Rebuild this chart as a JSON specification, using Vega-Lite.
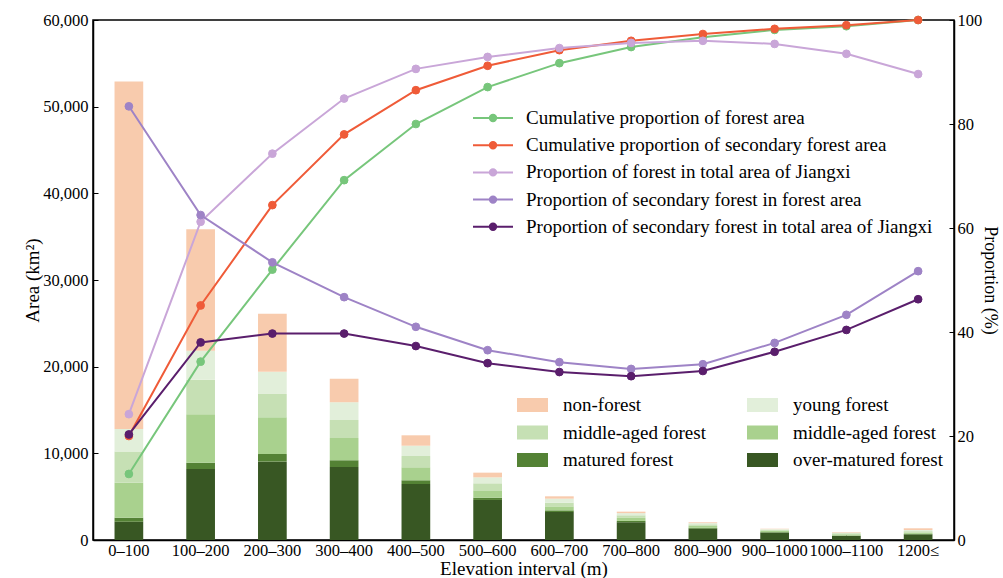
{
  "$schema": "https://vega.github.io/schema/vega-lite/v6.json",
  "width": 861,
  "height": 520,
  "autosize": {"type": "none"},
  "padding": {"left": 93, "top": 20, "right": 49, "bottom": 38},
  "background": "white",
  "config": {
    "font": "Liberation Serif",
    "view": {"stroke": "black", "strokeWidth": 1.5},
    "axis": {
      "labelFont": "Liberation Serif",
      "titleFont": "Liberation Serif",
      "labelFontSize": 16.5,
      "titleFontSize": 19,
      "titleFontWeight": "normal",
      "labelColor": "black",
      "titleColor": "black",
      "domainColor": "black",
      "domainWidth": 1.5,
      "tickColor": "black",
      "tickWidth": 1,
      "tickSize": -5,
      "labelPadding": 10,
      "grid": false
    },
    "legend": {
      "labelFont": "Liberation Serif",
      "labelFontSize": 19,
      "labelColor": "black",
      "labelLimit": 600,
      "padding": 0
    }
  },
  "datasets": {
    "bars": [
      {"elev": "0–100", "type": "over-matured forest", "stack": 1, "area": 2100},
      {"elev": "0–100", "type": "matured forest", "stack": 2, "area": 470},
      {"elev": "0–100", "type": "near-mature forest", "stack": 3, "area": 4030},
      {"elev": "0–100", "type": "middle-aged forest", "stack": 4, "area": 3600},
      {"elev": "0–100", "type": "young forest", "stack": 5, "area": 2600},
      {"elev": "0–100", "type": "non-forest", "stack": 6, "area": 40100},
      {"elev": "100–200", "type": "over-matured forest", "stack": 1, "area": 8200},
      {"elev": "100–200", "type": "matured forest", "stack": 2, "area": 700},
      {"elev": "100–200", "type": "near-mature forest", "stack": 3, "area": 5600},
      {"elev": "100–200", "type": "middle-aged forest", "stack": 4, "area": 4000},
      {"elev": "100–200", "type": "young forest", "stack": 5, "area": 3350},
      {"elev": "100–200", "type": "non-forest", "stack": 6, "area": 14000},
      {"elev": "200–300", "type": "over-matured forest", "stack": 1, "area": 9040},
      {"elev": "200–300", "type": "matured forest", "stack": 2, "area": 880},
      {"elev": "200–300", "type": "near-mature forest", "stack": 3, "area": 4230},
      {"elev": "200–300", "type": "middle-aged forest", "stack": 4, "area": 2700},
      {"elev": "200–300", "type": "young forest", "stack": 5, "area": 2550},
      {"elev": "200–300", "type": "non-forest", "stack": 6, "area": 6700},
      {"elev": "300–400", "type": "over-matured forest", "stack": 1, "area": 8420},
      {"elev": "300–400", "type": "matured forest", "stack": 2, "area": 780},
      {"elev": "300–400", "type": "near-mature forest", "stack": 3, "area": 2570},
      {"elev": "300–400", "type": "middle-aged forest", "stack": 4, "area": 2080},
      {"elev": "300–400", "type": "young forest", "stack": 5, "area": 2050},
      {"elev": "300–400", "type": "non-forest", "stack": 6, "area": 2700},
      {"elev": "400–500", "type": "over-matured forest", "stack": 1, "area": 6460},
      {"elev": "400–500", "type": "matured forest", "stack": 2, "area": 430},
      {"elev": "400–500", "type": "near-mature forest", "stack": 3, "area": 1500},
      {"elev": "400–500", "type": "middle-aged forest", "stack": 4, "area": 1300},
      {"elev": "400–500", "type": "young forest", "stack": 5, "area": 1190},
      {"elev": "400–500", "type": "non-forest", "stack": 6, "area": 1200},
      {"elev": "500–600", "type": "over-matured forest", "stack": 1, "area": 4620},
      {"elev": "500–600", "type": "matured forest", "stack": 2, "area": 260},
      {"elev": "500–600", "type": "near-mature forest", "stack": 3, "area": 850},
      {"elev": "500–600", "type": "middle-aged forest", "stack": 4, "area": 810},
      {"elev": "500–600", "type": "young forest", "stack": 5, "area": 690},
      {"elev": "500–600", "type": "non-forest", "stack": 6, "area": 540},
      {"elev": "600–700", "type": "over-matured forest", "stack": 1, "area": 3230},
      {"elev": "600–700", "type": "matured forest", "stack": 2, "area": 190},
      {"elev": "600–700", "type": "near-mature forest", "stack": 3, "area": 460},
      {"elev": "600–700", "type": "middle-aged forest", "stack": 4, "area": 420},
      {"elev": "600–700", "type": "young forest", "stack": 5, "area": 470},
      {"elev": "600–700", "type": "non-forest", "stack": 6, "area": 270},
      {"elev": "700–800", "type": "over-matured forest", "stack": 1, "area": 2050},
      {"elev": "700–800", "type": "matured forest", "stack": 2, "area": 150},
      {"elev": "700–800", "type": "near-mature forest", "stack": 3, "area": 350},
      {"elev": "700–800", "type": "middle-aged forest", "stack": 4, "area": 300},
      {"elev": "700–800", "type": "young forest", "stack": 5, "area": 250},
      {"elev": "700–800", "type": "non-forest", "stack": 6, "area": 170},
      {"elev": "800–900", "type": "over-matured forest", "stack": 1, "area": 1300},
      {"elev": "800–900", "type": "matured forest", "stack": 2, "area": 100},
      {"elev": "800–900", "type": "near-mature forest", "stack": 3, "area": 230},
      {"elev": "800–900", "type": "middle-aged forest", "stack": 4, "area": 180},
      {"elev": "800–900", "type": "young forest", "stack": 5, "area": 140},
      {"elev": "800–900", "type": "non-forest", "stack": 6, "area": 90},
      {"elev": "900–1000", "type": "over-matured forest", "stack": 1, "area": 850},
      {"elev": "900–1000", "type": "matured forest", "stack": 2, "area": 60},
      {"elev": "900–1000", "type": "near-mature forest", "stack": 3, "area": 150},
      {"elev": "900–1000", "type": "middle-aged forest", "stack": 4, "area": 110},
      {"elev": "900–1000", "type": "young forest", "stack": 5, "area": 80},
      {"elev": "900–1000", "type": "non-forest", "stack": 6, "area": 50},
      {"elev": "1000–1100", "type": "over-matured forest", "stack": 1, "area": 470},
      {"elev": "1000–1100", "type": "matured forest", "stack": 2, "area": 40},
      {"elev": "1000–1100", "type": "near-mature forest", "stack": 3, "area": 150},
      {"elev": "1000–1100", "type": "middle-aged forest", "stack": 4, "area": 120},
      {"elev": "1000–1100", "type": "young forest", "stack": 5, "area": 80},
      {"elev": "1000–1100", "type": "non-forest", "stack": 6, "area": 60},
      {"elev": "1200≤", "type": "over-matured forest", "stack": 1, "area": 650},
      {"elev": "1200≤", "type": "matured forest", "stack": 2, "area": 50},
      {"elev": "1200≤", "type": "near-mature forest", "stack": 3, "area": 170},
      {"elev": "1200≤", "type": "middle-aged forest", "stack": 4, "area": 150},
      {"elev": "1200≤", "type": "young forest", "stack": 5, "area": 130},
      {"elev": "1200≤", "type": "non-forest", "stack": 6, "area": 200}
    ],
    "lines": [
      {"elev": "0–100", "series": "Cumulative proportion of forest area", "pct": 12.7},
      {"elev": "100–200", "series": "Cumulative proportion of forest area", "pct": 34.3},
      {"elev": "200–300", "series": "Cumulative proportion of forest area", "pct": 52.0},
      {"elev": "300–400", "series": "Cumulative proportion of forest area", "pct": 69.2},
      {"elev": "400–500", "series": "Cumulative proportion of forest area", "pct": 80.0},
      {"elev": "500–600", "series": "Cumulative proportion of forest area", "pct": 87.1},
      {"elev": "600–700", "series": "Cumulative proportion of forest area", "pct": 91.7},
      {"elev": "700–800", "series": "Cumulative proportion of forest area", "pct": 94.8},
      {"elev": "800–900", "series": "Cumulative proportion of forest area", "pct": 96.7},
      {"elev": "900–1000", "series": "Cumulative proportion of forest area", "pct": 98.1},
      {"elev": "1000–1100", "series": "Cumulative proportion of forest area", "pct": 98.8},
      {"elev": "1200≤", "series": "Cumulative proportion of forest area", "pct": 100},
      {"elev": "0–100", "series": "Cumulative proportion of secondary forest area", "pct": 20.0},
      {"elev": "100–200", "series": "Cumulative proportion of secondary forest area", "pct": 45.1},
      {"elev": "200–300", "series": "Cumulative proportion of secondary forest area", "pct": 64.4},
      {"elev": "300–400", "series": "Cumulative proportion of secondary forest area", "pct": 78.0},
      {"elev": "400–500", "series": "Cumulative proportion of secondary forest area", "pct": 86.5},
      {"elev": "500–600", "series": "Cumulative proportion of secondary forest area", "pct": 91.2},
      {"elev": "600–700", "series": "Cumulative proportion of secondary forest area", "pct": 94.2},
      {"elev": "700–800", "series": "Cumulative proportion of secondary forest area", "pct": 96.0},
      {"elev": "800–900", "series": "Cumulative proportion of secondary forest area", "pct": 97.3},
      {"elev": "900–1000", "series": "Cumulative proportion of secondary forest area", "pct": 98.3},
      {"elev": "1000–1100", "series": "Cumulative proportion of secondary forest area", "pct": 99.0},
      {"elev": "1200≤", "series": "Cumulative proportion of secondary forest area", "pct": 100},
      {"elev": "0–100", "series": "Proportion of forest in total area of Jiangxi", "pct": 24.2},
      {"elev": "100–200", "series": "Proportion of forest in total area of Jiangxi", "pct": 61.2},
      {"elev": "200–300", "series": "Proportion of forest in total area of Jiangxi", "pct": 74.3},
      {"elev": "300–400", "series": "Proportion of forest in total area of Jiangxi", "pct": 84.9},
      {"elev": "400–500", "series": "Proportion of forest in total area of Jiangxi", "pct": 90.6},
      {"elev": "500–600", "series": "Proportion of forest in total area of Jiangxi", "pct": 92.9},
      {"elev": "600–700", "series": "Proportion of forest in total area of Jiangxi", "pct": 94.6},
      {"elev": "700–800", "series": "Proportion of forest in total area of Jiangxi", "pct": 95.6},
      {"elev": "800–900", "series": "Proportion of forest in total area of Jiangxi", "pct": 96.0},
      {"elev": "900–1000", "series": "Proportion of forest in total area of Jiangxi", "pct": 95.4},
      {"elev": "1000–1100", "series": "Proportion of forest in total area of Jiangxi", "pct": 93.5},
      {"elev": "1200≤", "series": "Proportion of forest in total area of Jiangxi", "pct": 89.6},
      {"elev": "0–100", "series": "Proportion of secondary forest in forest area", "pct": 83.4},
      {"elev": "100–200", "series": "Proportion of secondary forest in forest area", "pct": 62.5},
      {"elev": "200–300", "series": "Proportion of secondary forest in forest area", "pct": 53.4},
      {"elev": "300–400", "series": "Proportion of secondary forest in forest area", "pct": 46.7},
      {"elev": "400–500", "series": "Proportion of secondary forest in forest area", "pct": 41.0},
      {"elev": "500–600", "series": "Proportion of secondary forest in forest area", "pct": 36.5},
      {"elev": "600–700", "series": "Proportion of secondary forest in forest area", "pct": 34.2},
      {"elev": "700–800", "series": "Proportion of secondary forest in forest area", "pct": 32.9},
      {"elev": "800–900", "series": "Proportion of secondary forest in forest area", "pct": 33.8},
      {"elev": "900–1000", "series": "Proportion of secondary forest in forest area", "pct": 37.9},
      {"elev": "1000–1100", "series": "Proportion of secondary forest in forest area", "pct": 43.3},
      {"elev": "1200≤", "series": "Proportion of secondary forest in forest area", "pct": 51.7},
      {"elev": "0–100", "series": "Proportion of secondary forest in total area of Jiangxi", "pct": 20.3},
      {"elev": "100–200", "series": "Proportion of secondary forest in total area of Jiangxi", "pct": 38.0},
      {"elev": "200–300", "series": "Proportion of secondary forest in total area of Jiangxi", "pct": 39.7},
      {"elev": "300–400", "series": "Proportion of secondary forest in total area of Jiangxi", "pct": 39.7},
      {"elev": "400–500", "series": "Proportion of secondary forest in total area of Jiangxi", "pct": 37.3},
      {"elev": "500–600", "series": "Proportion of secondary forest in total area of Jiangxi", "pct": 34.0},
      {"elev": "600–700", "series": "Proportion of secondary forest in total area of Jiangxi", "pct": 32.3},
      {"elev": "700–800", "series": "Proportion of secondary forest in total area of Jiangxi", "pct": 31.5},
      {"elev": "800–900", "series": "Proportion of secondary forest in total area of Jiangxi", "pct": 32.5},
      {"elev": "900–1000", "series": "Proportion of secondary forest in total area of Jiangxi", "pct": 36.2},
      {"elev": "1000–1100", "series": "Proportion of secondary forest in total area of Jiangxi", "pct": 40.4},
      {"elev": "1200≤", "series": "Proportion of secondary forest in total area of Jiangxi", "pct": 46.3}
    ]
  },
  "encoding": {
    "x": {
      "field": "elev",
      "type": "nominal",
      "sort": ["0–100", "100–200", "200–300", "300–400", "400–500", "500–600", "600–700", "700–800", "800–900", "900–1000", "1000–1100", "1200≤"],
      "scale": {"paddingInner": 0.6, "paddingOuter": 0.3},
      "axis": {"title": "Elevation interval (m)", "labelAngle": 0, "titlePadding": 1, "labelPadding": 7}
    }
  },
  "layer": [
    {
      "data": {"name": "bars"},
      "mark": {"type": "bar"},
      "encoding": {
        "y": {
          "field": "area",
          "type": "quantitative",
          "stack": "zero",
          "scale": {"domain": [0, 60000]},
          "axis": {"title": "Area (km²)", "values": [0, 10000, 20000, 30000, 40000, 50000, 60000], "format": ",d", "titlePadding": 0}
        },
        "color": {
          "field": "type",
          "type": "nominal",
          "scale": {
            "domain": ["non-forest", "middle-aged forest", "matured forest", "young forest", "near-mature forest", "over-matured forest"],
            "range": ["#f8cbad", "#c6e0b4", "#548235", "#e2efda", "#a9d18e", "#385723"]
          },
          "legend": {
            "title": null,
            "orient": "none",
            "legendX": 424,
            "legendY": 375,
            "columns": 2,
            "columnPadding": 41,
            "rowPadding": 7.5,
            "symbolType": "M-1,-0.45H1V0.45H-1Z",
            "symbolSize": 961,
            "symbolStrokeWidth": 0,
            "clipHeight": 20,
            "labelOffset": 15,
            "labelExpr": "datum.label == 'near-mature forest' ? 'middle-aged forest' : datum.label"
          }
        },
        "order": {"field": "stack", "type": "quantitative"}
      }
    },
    {
      "data": {"name": "lines"},
      "encoding": {
        "y": {
          "field": "pct",
          "type": "quantitative",
          "scale": {"domain": [0, 100]},
          "axis": {"orient": "right", "title": "Proportion (%)", "titleFontSize": 18, "values": [0, 20, 40, 60, 80, 100], "titlePadding": -1, "labelPadding": 8}
        },
        "stroke": {
          "field": "series",
          "type": "nominal",
          "scale": {
            "domain": ["Cumulative proportion of forest area", "Cumulative proportion of secondary forest area", "Proportion of forest in total area of Jiangxi", "Proportion of secondary forest in forest area", "Proportion of secondary forest in total area of Jiangxi"],
            "range": ["#77c67b", "#ef5b38", "#c9a6d8", "#9e83c6", "#5a1e6c"]
          },
          "legend": {
            "title": null,
            "orient": "none",
            "legendX": 379,
            "legendY": 88,
            "symbolType": "M-1,0H1M-0.16,0A0.16,0.16 0 1,0 0.16,0A0.16,0.16 0 1,0 -0.16,0",
            "symbolSize": 1600,
            "symbolStrokeWidth": 2,
            "clipHeight": 20,
            "rowPadding": 7.2,
            "labelOffset": 12
          }
        }
      },
      "layer": [
        {"mark": {"type": "line", "strokeWidth": 2}},
        {
          "mark": {"type": "point", "filled": true, "opacity": 1, "size": 60, "strokeWidth": 1},
          "encoding": {
            "fill": {
              "field": "series",
              "type": "nominal",
              "scale": {
                "domain": ["Cumulative proportion of forest area", "Cumulative proportion of secondary forest area", "Proportion of forest in total area of Jiangxi", "Proportion of secondary forest in forest area", "Proportion of secondary forest in total area of Jiangxi"],
                "range": ["#77c67b", "#ef5b38", "#c9a6d8", "#9e83c6", "#5a1e6c"]
              },
              "legend": {
                "title": null,
                "orient": "none",
                "legendX": 379,
                "legendY": 88,
                "symbolType": "M-1,0H1M-0.16,0A0.16,0.16 0 1,0 0.16,0A0.16,0.16 0 1,0 -0.16,0",
                "symbolSize": 1600,
                "symbolStrokeWidth": 2,
                "clipHeight": 20,
                "rowPadding": 7.2,
                "labelOffset": 12
              }
            }
          }
        }
      ]
    }
  ],
  "resolve": {"scale": {"y": "independent"}}
}
